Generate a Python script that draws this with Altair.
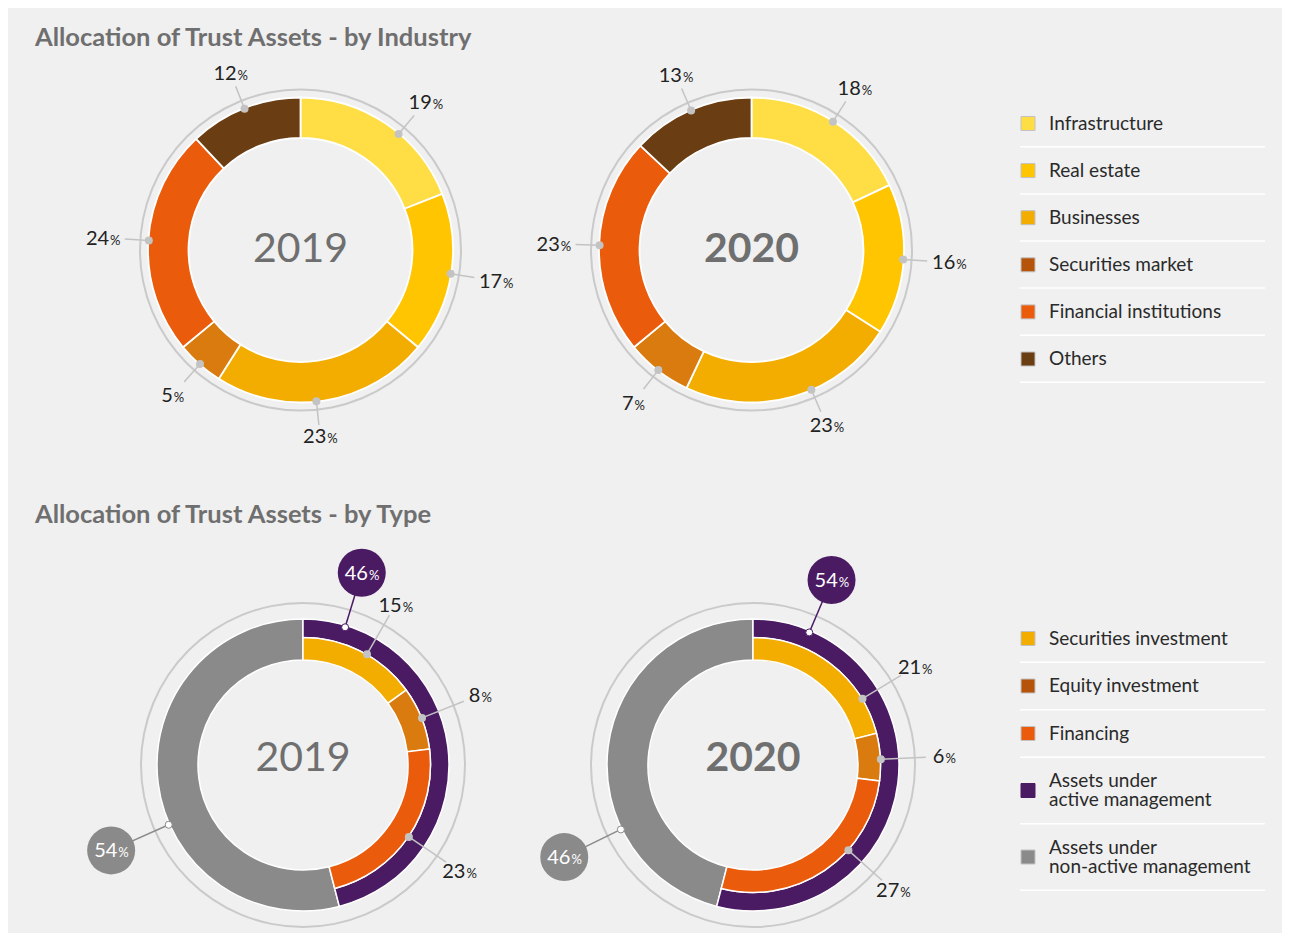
import math
import altair as alt
import pandas as pd

# ------------------------------------------------------------------ data
years = ["2019", "2020"]

industry_categories = ["Infrastructure", "Real estate", "Businesses",
                       "Securities market", "Financial institutions", "Others"]
industry_2019 = [19, 17, 23, 5, 24, 12]
industry_2020 = [18, 16, 23, 7, 23, 13]

type_categories = ["Securities investment", "Equity investment", "Financing"]
type_2019 = [15, 8, 23]
type_2020 = [21, 6, 27]

management_categories = ["Assets under active management",
                         "Assets under non-active management"]
management_2019 = [46, 54]
management_2020 = [54, 46]

section_titles = ["Allocation of Trust Assets - by Industry",
                  "Allocation of Trust Assets - by Type"]

industry_legend = [["Infrastructure"], ["Real estate"], ["Businesses"],
                   ["Securities market"], ["Financial institutions"], ["Others"]]
type_legend = [["Securities investment"], ["Equity investment"], ["Financing"],
               ["Assets under", "active management"],
               ["Assets under", "non-active management"]]

# ------------------------------------------------------------------ styles
BG = "#f0f0f0"
FONT = "Lato"
IND_COLORS = ["#FFDE45", "#FEC500", "#F3AD00", "#D97B0E", "#EA5B0C", "#6A3D12"]
IND_LEGEND_COLORS = ["#FFDE45", "#FEC500", "#F3AD00", "#B5530A", "#EA5B0C", "#6A3D12"]
TYPE_COLORS = ["#F3AD00", "#D97B0E", "#EA5B0C"]
MGMT_COLORS = ["#4A1A63", "#8A8A8A"]
TYPE_LEGEND_COLORS = ["#F3AD00", "#B5530A", "#EA5B0C", "#4A1A63", "#8A8A8A"]
RING_COLOR = "#cacaca"
LEADER = "#c3c3c3"
TITLE_COLOR = "#6f6f6f"
LABEL_COLOR = "#222222"

# ------------------------------------------------------------------ layout
W, H = 1274, 925
X0, Y0 = 8, 8
TOP_CENTERS = {"2019": (300.5, 250), "2020": (751.5, 250)}
BOT_CENTERS = {"2019": (303, 765), "2020": (753, 765)}
TOP_R = (152.5, 112)
BOT_R = (146, 127.5, 105)
TOP_LABEL_NUDGE = {"2019": [6, 0, 3, 0, 0, 0], "2020": [0, 0, -7, 0, 0, 0]}
BOT_LABEL_NUDGE = {"2019": [3, 0, 0], "2020": [21, 1, -14]}
CALLOUT_ANGLE = {"2019": [17, 246], "2020": [23, 244]}
NUM_W, PCT_W = 11.2, 10
LEG_LINE_H = 19

XS = alt.Scale(domain=[X0, X0 + W], nice=False, zero=False)
YS = alt.Scale(domain=[Y0, Y0 + H], nice=False, zero=False, reverse=True)
TS = alt.Scale(domain=[0, 100], range=[0, 2 * math.pi])


def X(f):
    return alt.X(f"{f}:Q", scale=XS, axis=None)


def Y(f):
    return alt.Y(f"{f}:Q", scale=YS, axis=None)


def polar(cx, cy, r, deg):
    a = math.radians(deg)
    return cx + r * math.sin(a), cy - r * math.cos(a)


def arcs(df, r, r2, **kw):
    return alt.Chart(df).mark_arc(radius=r, radius2=r2, **kw).encode(
        x=X("cx"), y=Y("cy"),
        theta=alt.Theta("start:Q", scale=TS), theta2="end:Q",
        fill=alt.Fill("color:N", scale=None))


def segments(values, colors, center):
    rows, cum = [], 0
    for v, c in zip(values, colors):
        rows.append(dict(cx=center[0], cy=center[1], start=cum, end=cum + v, color=c, v=v))
        cum += v
    return rows


def label_row(cx, cy, deg, v, r_dot, r_line, r_lab0):
    xd, yd = polar(cx, cy, r_dot, deg)
    xl, yl = polar(cx, cy, r_line, deg)
    r_lab = r_lab0 + 12 * abs(math.sin(math.radians(deg)))
    xt, yt = polar(cx, cy, r_lab, deg)
    nd = len(str(v))
    return dict(xd=xd, yd=yd, xl=xl, yl=yl,
                xj=xt + (nd * NUM_W - PCT_W) / 2, yt=yt + 7,
                num=str(v), pct="%")


industry_vals = {"2019": industry_2019, "2020": industry_2020}
type_vals = {"2019": type_2019, "2020": type_2020}
mgmt_vals = {"2019": management_2019, "2020": management_2020}

top_seg, inner_seg, active_seg, passive_seg = [], [], [], []
rings_top, rings_bot = [], []
labels, callout_lines, callout_dots, callout_circles, years_reg, years_bold = [], [], [], [], [], []

for yr in years:
    cx, cy = TOP_CENTERS[yr]
    rows = segments(industry_vals[yr], IND_COLORS, (cx, cy))
    top_seg += rows
    rings_top.append(dict(cx=cx, cy=cy, start=0, end=100, color=RING_COLOR))
    for r, nud in zip(rows, TOP_LABEL_NUDGE[yr]):
        deg = (r["start"] + r["end"]) / 2 * 3.6 + nud
        labels.append(label_row(cx, cy, deg, r["v"], 152, 176, 186))
    (years_reg if yr == "2019" else years_bold).append(dict(x=cx, y=cy, t=yr))

    bx, by = BOT_CENTERS[yr]
    rows = segments(type_vals[yr], TYPE_COLORS, (bx, by))
    inner_seg += rows
    mrows = segments(mgmt_vals[yr], MGMT_COLORS, (bx, by))
    active_seg.append(mrows[0])
    passive_seg.append(mrows[1])
    rings_bot.append(dict(cx=bx, cy=by, start=0, end=100, color=RING_COLOR))
    for r, nud in zip(rows, BOT_LABEL_NUDGE[yr]):
        deg = (r["start"] + r["end"]) / 2 * 3.6 + nud
        labels.append(label_row(bx, by, deg, r["v"], 128, 173, 179))
    for k, (mr, ang) in enumerate(zip(mrows, CALLOUT_ANGLE[yr])):
        xd, yd = polar(bx, by, 144 if k == 0 else 147, ang)
        xc, yc = polar(bx, by, 201 if k == 0 else 210, ang)
        col = mr["color"]
        callout_lines.append(dict(xa=xd, ya=yd, xb=xc, yb=yc, c=col))
        callout_dots.append(dict(x=xd, y=yd, c=col))
        nd = len(str(mr["v"]))
        callout_circles.append(dict(x=xc, y=yc, c=col, xj=xc + (nd * NUM_W - PCT_W) / 2,
                                    yt=yc + 7, num=str(mr["v"]), pct="%"))
    (years_reg if yr == "2019" else years_bold).append(dict(x=bx, y=by - 6, t=yr))

# legend rows
leg_sq, leg_txt, leg_sep = [], [], []
for i, (lines, col) in enumerate(zip(industry_legend, IND_LEGEND_COLORS)):
    yc = 123.5 + i * 47.1
    leg_sq.append(dict(x=1021, x2=1035, y=yc - 7, y2=yc + 7, c=col, s="#c2c2c2"))
    leg_txt.append(dict(x=1049, y=yc - (len(lines) - 1) * LEG_LINE_H / 2, t="\n".join(lines)))
    leg_sep.append(dict(x=1020, x2=1265, y=yc + 23.3))
yc = 638.5
prev_pitch = None
for i, (lines, col) in enumerate(zip(type_legend, TYPE_LEGEND_COLORS)):
    pitch = 47.5 if len(lines) == 1 else 66.5
    if prev_pitch is not None:
        yc += prev_pitch / 2 + pitch / 2
    prev_pitch = pitch
    leg_sq.append(dict(x=1021, x2=1035, y=yc - 7, y2=yc + 7, c=col,
                       s=col if col == MGMT_COLORS[0] else "#c2c2c2"))
    leg_txt.append(dict(x=1049, y=yc - (len(lines) - 1) * LEG_LINE_H / 2, t="\n".join(lines)))
    leg_sep.append(dict(x=1020, x2=1265, y=yc + pitch / 2))

titles = [dict(x=35, y=45.5, t=section_titles[0]), dict(x=35, y=523.3, t=section_titles[1])]

# ------------------------------------------------------------------ layers
L = []
L.append(arcs(pd.DataFrame(rings_top), 161.5, 159.5, strokeWidth=0))
L.append(arcs(pd.DataFrame(rings_bot), 163, 161, strokeWidth=0))
L.append(arcs(pd.DataFrame(top_seg), TOP_R[0], TOP_R[1], stroke="white", strokeWidth=1.8))
L.append(arcs(pd.DataFrame(passive_seg), BOT_R[0], BOT_R[2], stroke="white", strokeWidth=1.5))
L.append(arcs(pd.DataFrame(active_seg), BOT_R[0], BOT_R[1], stroke="white", strokeWidth=1.5))
L.append(arcs(pd.DataFrame(inner_seg), BOT_R[1], BOT_R[2], stroke="white", strokeWidth=1.5))

lab = pd.DataFrame(labels)
L.append(alt.Chart(lab).mark_rule(color=LEADER, strokeWidth=1.5).encode(
    x=X("xd"), y=Y("yd"), x2=alt.X2("xl:Q"), y2=alt.Y2("yl:Q")))
L.append(alt.Chart(lab).mark_circle(size=64, color=LEADER, opacity=1).encode(x=X("xd"), y=Y("yd")))
L.append(alt.Chart(lab).mark_text(font=FONT, fontSize=20, align="right", baseline="alphabetic",
                                  color=LABEL_COLOR).encode(x=X("xj"), y=Y("yt"), text="num:N"))
L.append(alt.Chart(lab).mark_text(font=FONT, fontSize=13, align="left", baseline="alphabetic",
                                  color=LABEL_COLOR, dx=1).encode(x=X("xj"), y=Y("yt"), text="pct:N"))

cl = pd.DataFrame(callout_lines)
L.append(alt.Chart(cl).mark_rule(strokeWidth=1.5).encode(
    x=X("xa"), y=Y("ya"), x2=alt.X2("xb:Q"), y2=alt.Y2("yb:Q"),
    color=alt.Color("c:N", scale=None)))
L.append(alt.Chart(pd.DataFrame(callout_dots)).mark_circle(size=49, fill="white", opacity=1,
                                                           strokeWidth=1).encode(
    x=X("x"), y=Y("y"), stroke=alt.Stroke("c:N", scale=None)))
cc = pd.DataFrame(callout_circles)
L.append(alt.Chart(cc).mark_circle(size=2304, opacity=1).encode(
    x=X("x"), y=Y("y"), color=alt.Color("c:N", scale=None)))
L.append(alt.Chart(cc).mark_text(font=FONT, fontSize=20, align="right", baseline="alphabetic",
                                 color="white").encode(x=X("xj"), y=Y("yt"), text="num:N"))
L.append(alt.Chart(cc).mark_text(font=FONT, fontSize=13, align="left", baseline="alphabetic",
                                 color="white", dx=1).encode(x=X("xj"), y=Y("yt"), text="pct:N"))

L.append(alt.Chart(pd.DataFrame(years_reg)).mark_text(font=FONT, fontSize=41, color=TITLE_COLOR,
                                                      baseline="middle").encode(
    x=X("x"), y=Y("y"), text="t:N"))
L.append(alt.Chart(pd.DataFrame(years_bold)).mark_text(font=FONT, fontSize=41, fontWeight="bold",
                                                       color=TITLE_COLOR, baseline="middle").encode(
    x=X("x"), y=Y("y"), text="t:N"))

L.append(alt.Chart(pd.DataFrame(titles)).mark_text(font=FONT, fontSize=25.5, fontWeight="bold",
                                                   color=TITLE_COLOR, align="left",
                                                   baseline="alphabetic").encode(
    x=X("x"), y=Y("y"), text="t:N"))

L.append(alt.Chart(pd.DataFrame(leg_sep)).mark_rule(color="white", strokeWidth=1.5).encode(
    x=X("x"), x2=alt.X2("x2:Q"), y=Y("y")))
L.append(alt.Chart(pd.DataFrame(leg_sq)).mark_rect(strokeWidth=1).encode(
    x=X("x"), x2=alt.X2("x2:Q"), y=Y("y"), y2=alt.Y2("y2:Q"),
    fill=alt.Fill("c:N", scale=None), stroke=alt.Stroke("s:N", scale=None)))
L.append(alt.Chart(pd.DataFrame(leg_txt)).mark_text(font=FONT, fontSize=19, color="#2a2a2a",
                                                    align="left", baseline="middle",
                                                    lineBreak="\n", lineHeight=LEG_LINE_H).encode(
    x=X("x"), y=Y("y"), text="t:N"))

chart = alt.layer(*L).properties(
    width=W, height=H, background=BG, padding=0,
    autosize=alt.AutoSizeParams(type="none"),
).configure_view(stroke="transparent")

chart.save("out.html", embed_options={"renderer": "svg", "actions": False})
